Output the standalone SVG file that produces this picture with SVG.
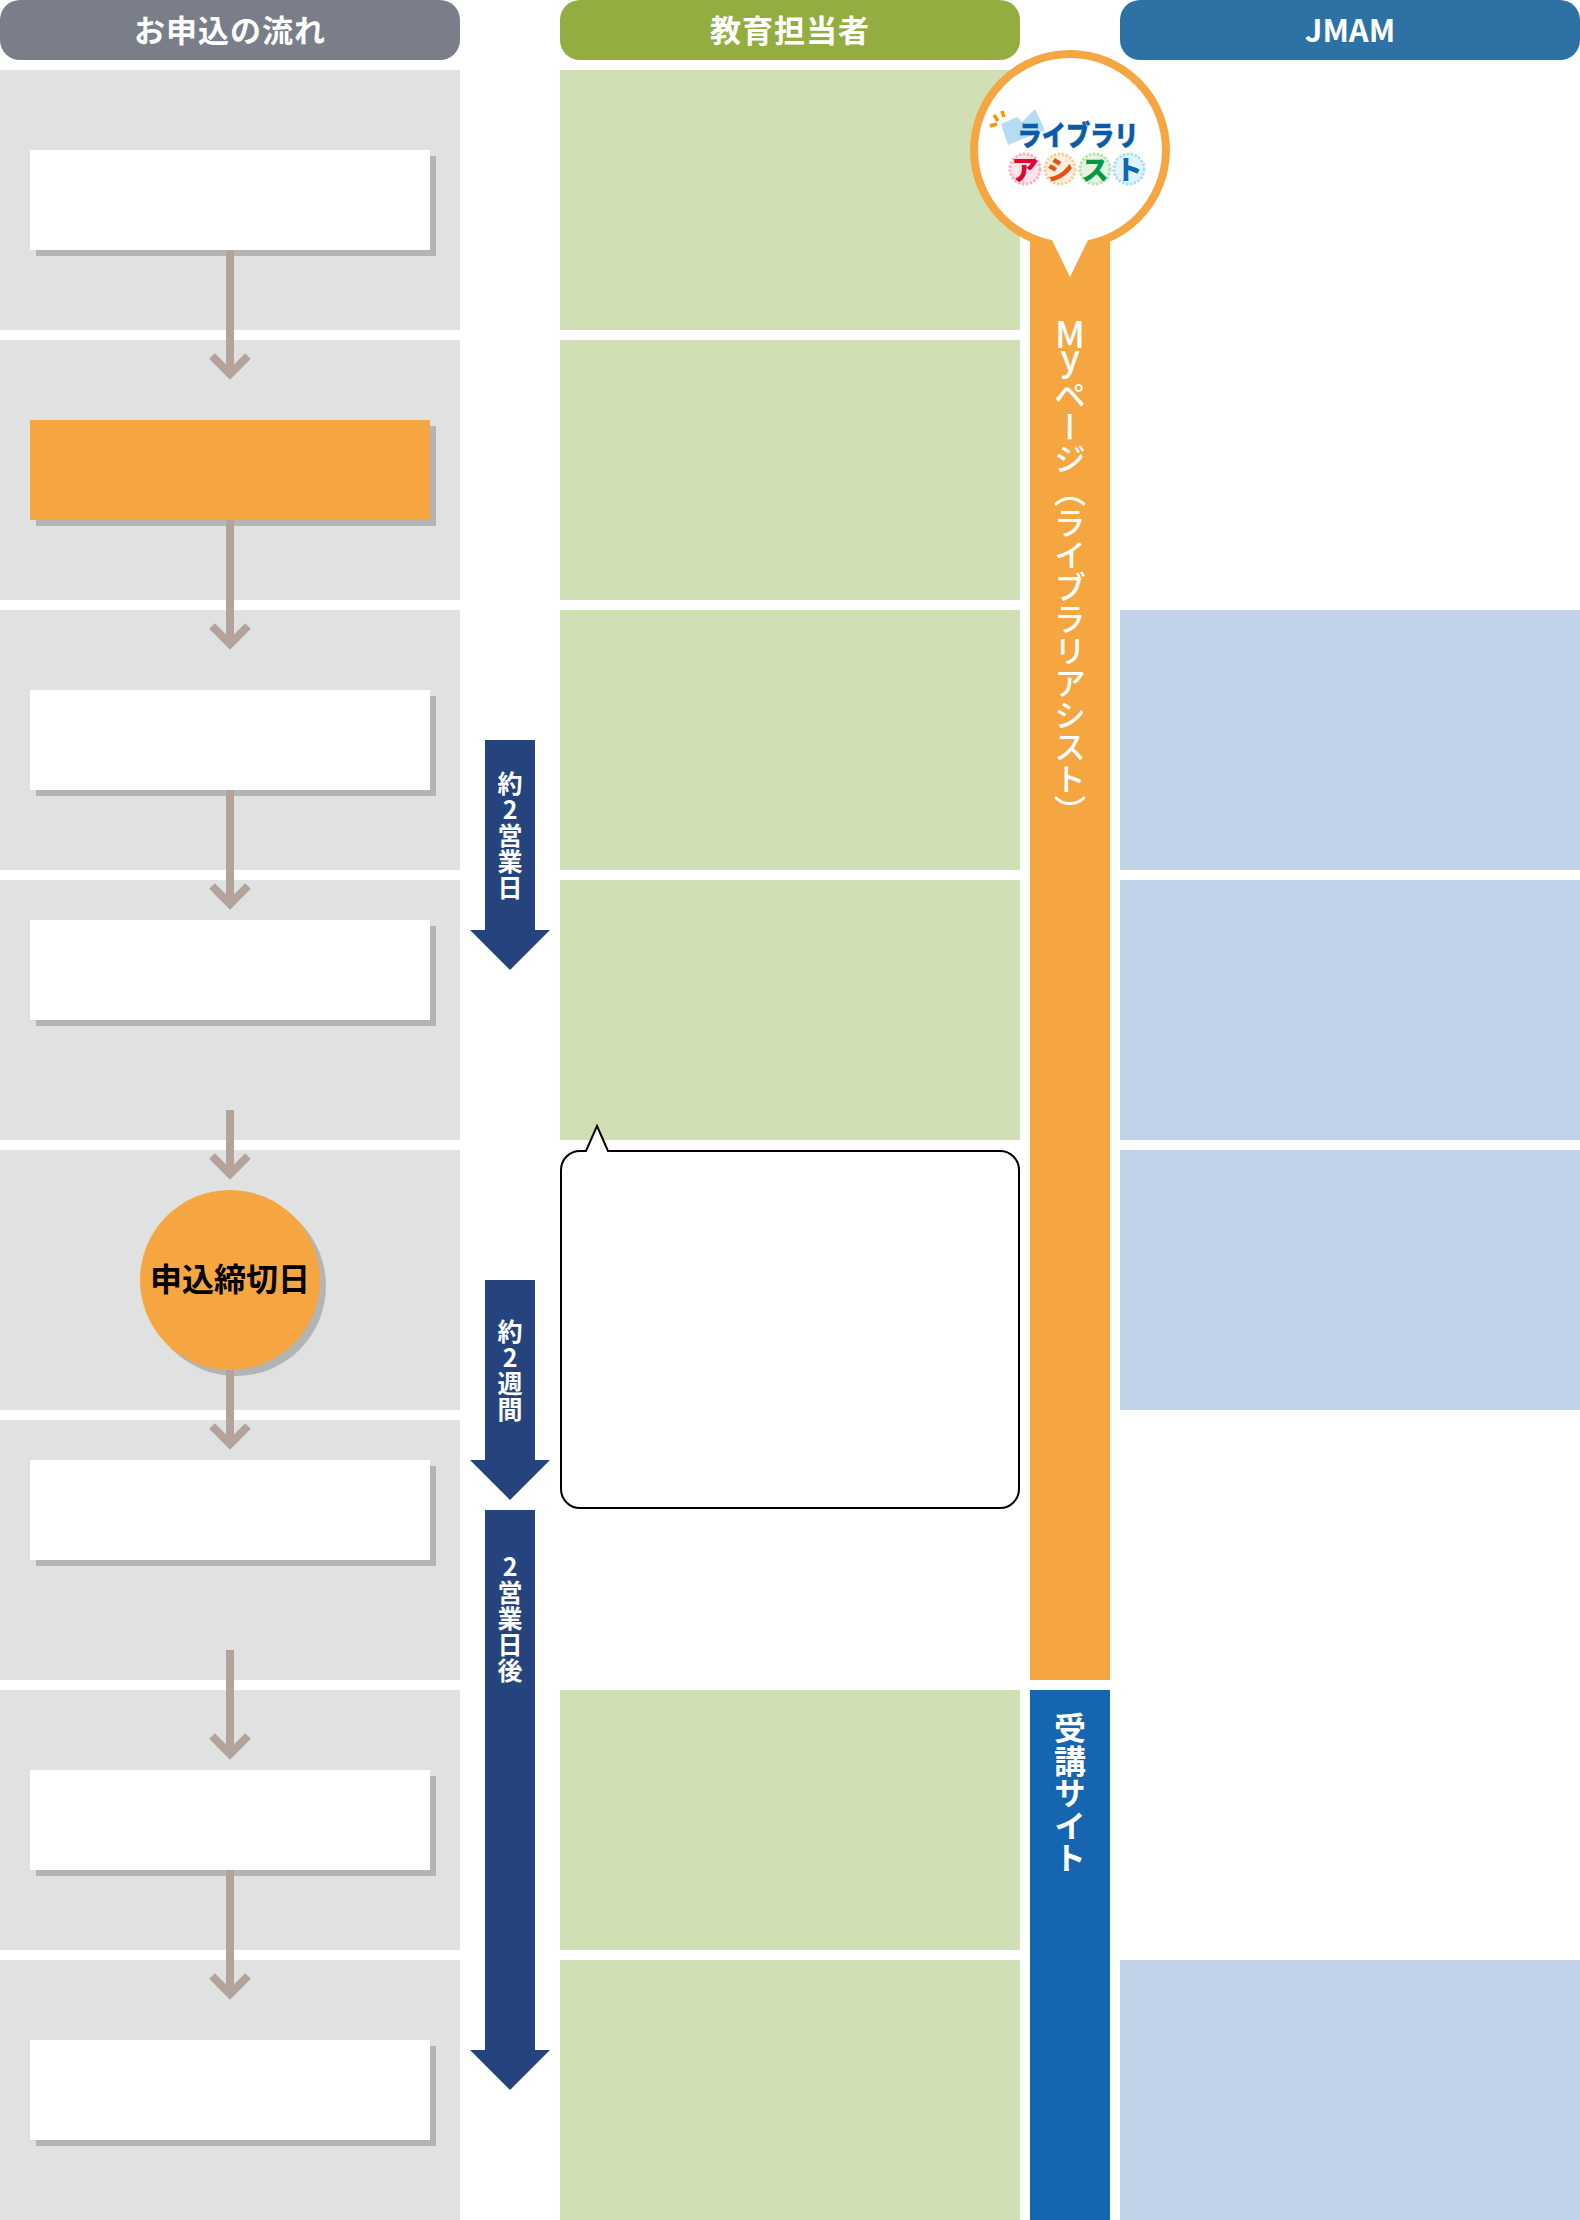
<svg xmlns="http://www.w3.org/2000/svg" width="1580" height="2220" viewBox="0 0 1580 2220">
<style>
text{font-family:"Noto Sans CJK JP","Noto Sans",sans-serif;font-weight:700}
.hd{fill:#fff;font-size:31px;letter-spacing:1px;text-anchor:middle}
.g{fill:#e0e2e1}.c{fill:#d1dfb5}.b{fill:#c1d1e8}
.sh{fill:#b3b5b4}.w{fill:#fff}.o{fill:#f6a640}
.nv{fill:#25447d}
.vs{fill:#fff;font-size:25px;letter-spacing:1px;writing-mode:vertical-rl;text-orientation:upright}
.vb{fill:#fff;font-size:32px;letter-spacing:0;font-weight:500;writing-mode:vertical-rl;text-orientation:upright}
.cn{fill:none;stroke:#b3a39b;stroke-width:8}
.lg{font-size:27px;font-weight:900;text-anchor:middle}
.dot{stroke-width:3;stroke-dasharray:2.5 1.5}
.sp{stroke:#f39800;stroke-width:3.5;fill:none}
</style>
<rect width="1580" height="2220" fill="#fff"/>
<g id="bands">
<rect class="g" y="70" width="460" height="260"/><rect class="g" y="340" width="460" height="260"/><rect class="g" y="610" width="460" height="260"/><rect class="g" y="880" width="460" height="260"/><rect class="g" y="1150" width="460" height="260"/><rect class="g" y="1420" width="460" height="260"/><rect class="g" y="1690" width="460" height="260"/><rect class="g" y="1960" width="460" height="260"/>
<rect class="c" x="560" y="70" width="460" height="260"/><rect class="c" x="560" y="340" width="460" height="260"/><rect class="c" x="560" y="610" width="460" height="260"/><rect class="c" x="560" y="880" width="460" height="260"/><rect class="c" x="560" y="1690" width="460" height="260"/><rect class="c" x="560" y="1960" width="460" height="260"/>
<rect class="b" x="1120" y="610" width="460" height="260"/><rect class="b" x="1120" y="880" width="460" height="260"/><rect class="b" x="1120" y="1150" width="460" height="260"/><rect class="b" x="1120" y="1960" width="460" height="260"/>
</g>
<g id="header-flow"><rect width="460" height="60" rx="20" fill="#7a7e89"/><text class="hd" x="230" y="42">お申込の流れ</text></g>
<g id="header-edu"><rect x="560" width="460" height="60" rx="20" fill="#94ad40"/><text class="hd" x="790" y="42">教育担当者</text></g>
<g id="header-jmam"><rect x="1120" width="460" height="60" rx="20" fill="#2e72a5"/><text class="hd" x="1350" y="42" style="letter-spacing:0">JMAM</text></g>
<g id="step1"><rect class="sh" x="36" y="156" width="400" height="100"/><rect class="w" x="30" y="150" width="400" height="100"/></g>
<g id="step2"><rect class="sh" x="36" y="426" width="400" height="100"/><rect class="o" x="30" y="420" width="400" height="100"/></g>
<g id="step3"><rect class="sh" x="36" y="696" width="400" height="100"/><rect class="w" x="30" y="690" width="400" height="100"/></g>
<g id="step4"><rect class="sh" x="36" y="926" width="400" height="100"/><rect class="w" x="30" y="920" width="400" height="100"/></g>
<g id="deadline"><circle class="sh" cx="236" cy="1286" r="90"/><circle class="o" cx="230" cy="1280" r="90"/><text x="230" y="1291" font-size="32" text-anchor="middle" fill="#000">申込締切日</text></g>
<g id="step6"><rect class="sh" x="36" y="1466" width="400" height="100"/><rect class="w" x="30" y="1460" width="400" height="100"/></g>
<g id="step7"><rect class="sh" x="36" y="1776" width="400" height="100"/><rect class="w" x="30" y="1770" width="400" height="100"/></g>
<g id="step8"><rect class="sh" x="36" y="2046" width="400" height="100"/><rect class="w" x="30" y="2040" width="400" height="100"/></g>
<g id="connectors">
<path class="cn" d="M230 250V374M212 356L230 374L248 356"/>
<path class="cn" d="M230 520V644M212 626L230 644L248 626"/>
<path class="cn" d="M230 790V904M212 886L230 904L248 886"/>
<path class="cn" d="M230 1110V1174M212 1156L230 1174L248 1156"/>
<path class="cn" d="M230 1370V1444M212 1426L230 1444L248 1426"/>
<path class="cn" d="M230 1650V1754M212 1736L230 1754L248 1736"/>
<path class="cn" d="M230 1870V1994M212 1976L230 1994L248 1976"/>
</g>
<g id="span-2days"><path class="nv" d="M485 740H535V930H550L510 970L470 930H485Z"/><text class="vs" x="510" y="771">約2営業日</text></g>
<g id="span-2weeks"><path class="nv" d="M485 1280H535V1460H550L510 1500L470 1460H485Z"/><text class="vs" x="510" y="1319">約2週間</text></g>
<g id="span-2days-after"><path class="nv" d="M485 1510H535V2050H550L510 2090L470 2050H485Z"/><text class="vs" x="510" y="1554">2営業日後</text></g>
<g id="callout"><path d="M580 1151H586L597 1126L608 1151H1000A19 19 0 0 1 1019 1170V1489A19 19 0 0 1 1000 1508H580A19 19 0 0 1 561 1489V1170A19 19 0 0 1 580 1151Z" fill="#fff" stroke="#000" stroke-width="2"/></g>
<g id="bar-mypage"><rect class="o" x="1030" y="200" width="80" height="1480"/><text class="vb" x="1070" y="316"><tspan y="316" style="font-size:36px">M</tspan><tspan y="339" style="font-size:36px">y</tspan><tspan y="379">ページ（ライブラリアシスト）</tspan></text></g>
<g id="bar-site"><rect x="1030" y="1690" width="80" height="530" fill="#1565b0"/><text class="vb" x="1070" y="1712" style="letter-spacing:.5px;font-weight:700">受講サイト</text></g>
<g id="library-assist">
<circle cx="1070" cy="150" r="96" fill="#fff" stroke="#f6a640" stroke-width="8"/>
<path d="M1051 238H1089L1070 277Z" fill="#fff"/>
<path d="M1001 124L1017 117Q1020 119 1022 122L1035 109L1045 130L1008 145Z" fill="#b5dcf3"/>
<path class="sp" d="M990 126L997 124M994 115L998 121M1002 111L1004 117"/>
<text class="lg" x="1078" y="146" style="font-size:28px" textLength="121" lengthAdjust="spacingAndGlyphs" fill="#0b5ca8" stroke="#0b5ca8" stroke-width=".5">ライブラリ</text>
<circle class="dot" cx="1025" cy="169" r="15" fill="#fde6ea" stroke="#f7b3c2"/>
<circle class="dot" cx="1060" cy="169" r="15" fill="#fef0dd" stroke="#fbcf9a"/>
<circle class="dot" cx="1095" cy="169" r="15" fill="#e6f4e1" stroke="#b9e0b0"/>
<circle class="dot" cx="1129" cy="169" r="15" fill="#e2f5fc" stroke="#a6e0f5"/>
<text class="lg" x="1025" y="180" fill="#e60033">ア</text>
<text class="lg" x="1060" y="180" fill="#e8500f">シ</text>
<text class="lg" x="1095" y="180" fill="#009944">ス</text>
<text class="lg" x="1129" y="180" fill="#0e68b4">ト</text>
</g>
</svg>
